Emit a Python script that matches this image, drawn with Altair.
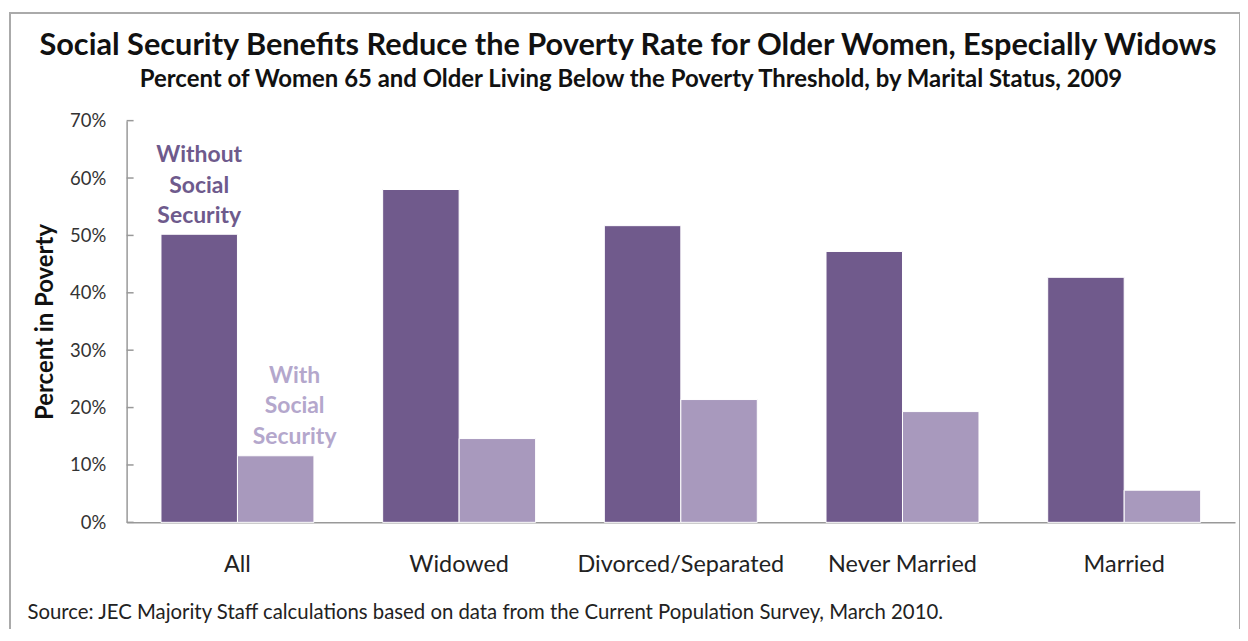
import altair as alt
import pandas as pd

categories = ["All", "Widowed", "Divorced/Separated", "Never Married", "Married"]
series = ["Without Social Security", "With Social Security"]
without_ss = [50.2, 58.0, 51.7, 47.2, 42.7]
with_ss = [11.6, 14.6, 21.4, 19.3, 5.6]
y_ticks = [0, 10, 20, 30, 40, 50, 60, 70]
annot_without = ["Without", "Social", "Security"]
annot_with = ["With", "Social", "Security"]

title = "Social Security Benefits Reduce the Poverty Rate for Older Women, Especially Widows"
subtitle = "Percent of Women 65 and Older Living Below the Poverty Threshold, by Marital Status, 2009"
source = "Source: JEC Majority Staff calculations based on data from the Current Population Survey, March 2010."

FONT = "Lato"
DARK = "#705A8C"
LIGHT = "#A899BD"
DARK_TXT = "#6E5A8C"
LIGHT_TXT = "#B4A7CC"

rows = []
for c, a, b in zip(categories, without_ss, with_ss):
    rows.append({"category": c, "series": series[0], "value": a})
    rows.append({"category": c, "series": series[1], "value": b})
df = pd.DataFrame(rows)

annot_a = pd.DataFrame({"category": [categories[0]], "series": [series[0]],
                        "lines": [annot_without], "value": [without_ss[0]]})
annot_b = pd.DataFrame({"category": [categories[0]], "series": [series[1]],
                        "lines": [annot_with], "value": [with_ss[0]]})
ticks_df = pd.DataFrame({"v": y_ticks})
titles_df = pd.DataFrame({"t": [title]})
subtitles_df = pd.DataFrame({"t": [subtitle]})

x_enc = alt.X("category:N", sort=categories,
              scale=alt.Scale(paddingInner=0.31, paddingOuter=0.155),
              axis=alt.Axis(title=source, labelFont=FONT, labelFontSize=23.5, labelColor="#222",
                            labelPadding=30, labelLimit=400, ticks=False, domainColor="#999",
                            domainWidth=1.5, labelAngle=0, titleFont=FONT, titleFontSize=20.4,
                            titleFontWeight="normal", titleColor="#222", titleX=-100, titleY=96,
                            titleAlign="left", titleAnchor="start", titleBaseline="alphabetic",
                            titleLimit=1200))
y_enc = alt.Y("value:Q", scale=alt.Scale(domain=[0, 70]),
              axis=alt.Axis(title="Percent in Poverty", values=y_ticks, labelExpr="datum.value + '%'",
                            labelFont=FONT, labelFontSize=18.5, labelColor="#333", ticks=False,
                            labelPadding=21, grid=False, domainColor="#999", domainWidth=1.5,
                            titleFont=FONT, titleFontSize=24, titleFontWeight="bold",
                            titleColor="#111", titlePadding=12))
xo = alt.XOffset("series:N", sort=series, scale=alt.Scale(paddingInner=0.0))

bars = alt.Chart(df).mark_bar(stroke="white", strokeWidth=1).encode(
    x=x_enc, xOffset=xo, y=y_enc,
    color=alt.Color("series:N", sort=series, scale=alt.Scale(domain=series, range=[DARK, LIGHT]),
                    legend=None),
)

ytick_marks = alt.Chart(ticks_df).mark_rule(color="#999", strokeWidth=1.5).encode(
    x=alt.value(0), x2=alt.value(7), y=alt.Y("v:Q")
)

lab_a = alt.Chart(annot_a).mark_text(font=FONT, fontSize=23, fontWeight="bold", baseline="alphabetic",
                                     dy=-72, lineHeight=30.5, color=DARK_TXT).encode(
    x=alt.X("category:N", sort=categories), xOffset=xo, y=alt.Y("value:Q"), text="lines",
)
lab_b = alt.Chart(annot_b).mark_text(font=FONT, fontSize=23, fontWeight="bold", baseline="alphabetic",
                                     dy=-73, dx=19, lineHeight=30.5, color=LIGHT_TXT).encode(
    x=alt.X("category:N", sort=categories), xOffset=xo, y=alt.Y("value:Q"), text="lines",
)

frame = alt.Chart(pd.DataFrame({"a": [0]})).mark_rect(fill=None, stroke="#AAAAAA", strokeWidth=2).encode(
    x=alt.value(-117), x2=alt.value(1117), y=alt.value(-108), y2=alt.value(640)
)

title_mark = alt.Chart(titles_df).mark_text(font=FONT, fontSize=30.8, fontWeight="bold", color="#111",
                                            align="center", baseline="middle", limit=1300).encode(
    x=alt.value(503), y=alt.value(-75), text="t:N"
)
subtitle_mark = alt.Chart(subtitles_df).mark_text(font=FONT, fontSize=24, fontWeight="bold", color="#111",
                                                  align="center", baseline="middle", limit=1300).encode(
    x=alt.value(506), y=alt.value(-41), text="t:N"
)

chart = alt.layer(frame, bars, ytick_marks, lab_a, lab_b, title_mark, subtitle_mark).properties(
    width=1112, height=403,
    autosize=alt.AutoSizeParams(type="none"),
    padding={"left": 119, "top": 112, "right": 5, "bottom": 106},
).configure(background="white").configure_view(stroke=None, strokeWidth=0)

chart.save("out.html", embed_options={"renderer": "svg", "actions": False})
